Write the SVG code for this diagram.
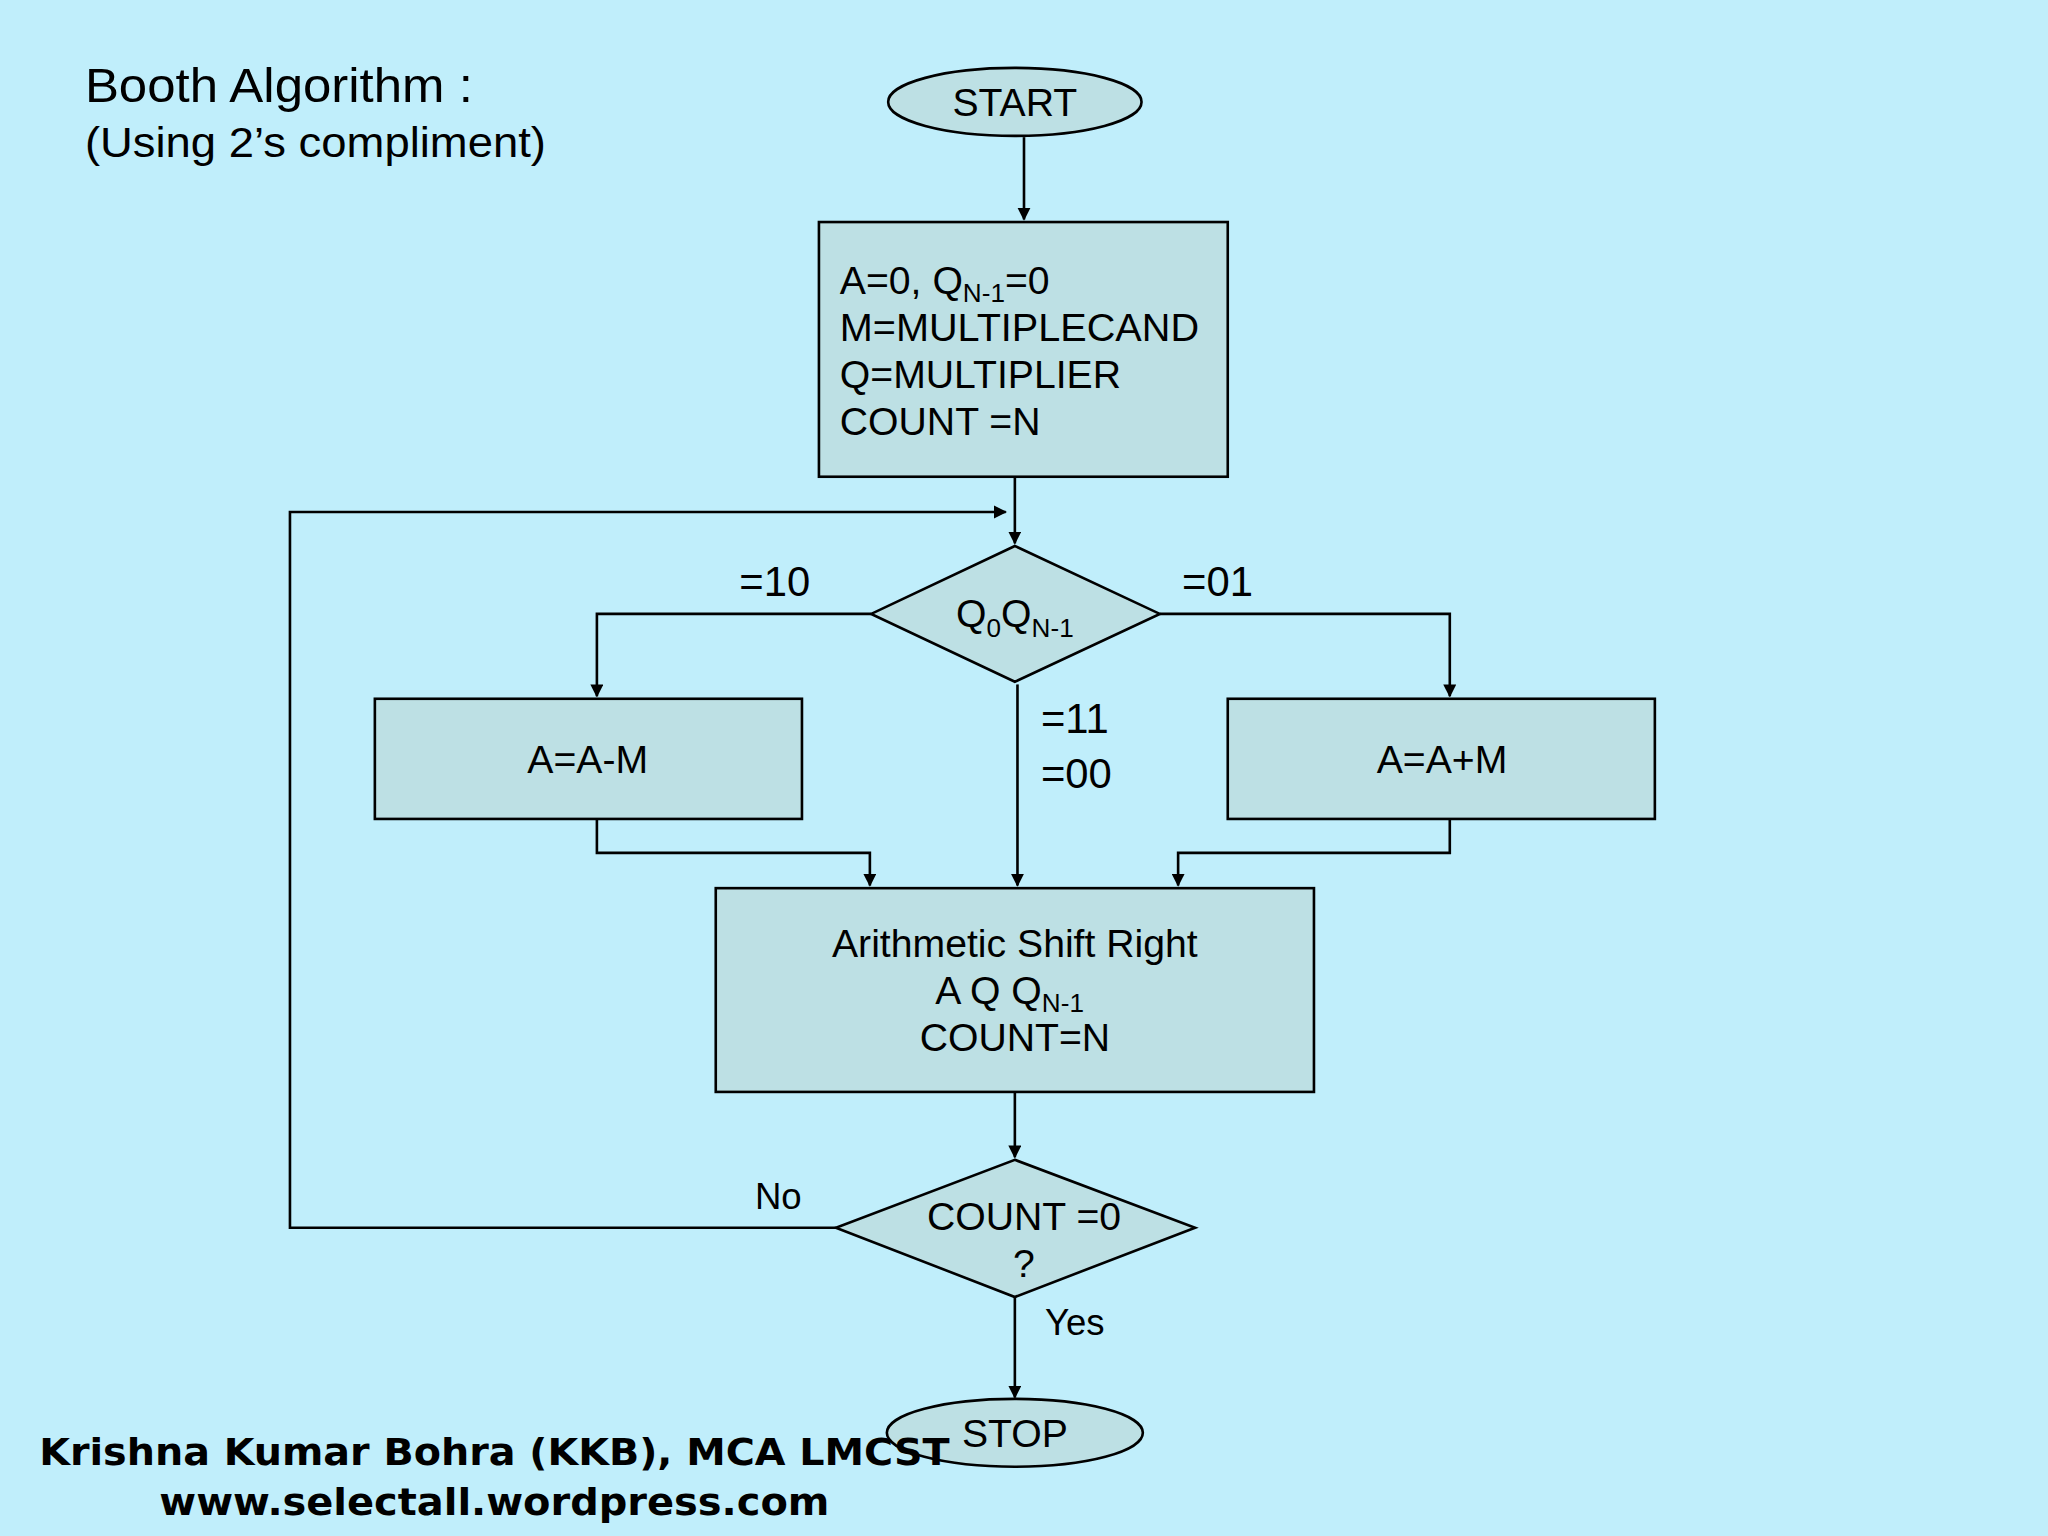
<svg xmlns="http://www.w3.org/2000/svg" width="2048" height="1536" viewBox="0 0 2048 1536">
<defs>
<marker id="ah" markerWidth="10" markerHeight="10" refX="9" refY="5" orient="auto" markerUnits="userSpaceOnUse"><path d="M0,0 L10,5 L0,10 z" fill="#000"/></marker>
<style>
.n{fill:#BDE0E4;stroke:#000;stroke-width:2}
.c{fill:none;stroke:#000;stroke-width:2}
.t{font-family:"Liberation Sans",Arial,sans-serif;font-size:30px;fill:#000}
.m{text-anchor:middle}
.f{font-family:"DejaVu Sans",Verdana,sans-serif;font-weight:bold;font-size:28px;fill:#000}
</style>
</defs>
<rect width="2048" height="1536" fill="#C0EEFB"/>
<g transform="scale(1.30612)">
<g id="title">
<text class="t" x="65" y="78" style="font-size:37px" textLength="297" lengthAdjust="spacingAndGlyphs">Booth Algorithm :</text>
<text class="t" x="65" y="120" style="font-size:33px" textLength="353" lengthAdjust="spacingAndGlyphs">(Using 2’s compliment)</text>
</g>
<g id="connectors">
<path class="c" d="M784,105 V168" marker-end="url(#ah)"/>
<path class="c" d="M777,365 V416" marker-end="url(#ah)"/>
<path class="c" d="M640,940 H222 V392 H770" marker-end="url(#ah)"/>
<path class="c" d="M667,470 H457 V533" marker-end="url(#ah)"/>
<path class="c" d="M888,470 H1110 V533" marker-end="url(#ah)"/>
<path class="c" d="M779,524 V678" marker-end="url(#ah)"/>
<path class="c" d="M457,627 V653 H666 V678" marker-end="url(#ah)"/>
<path class="c" d="M1110,627 V653 H902 V678" marker-end="url(#ah)"/>
<path class="c" d="M777,836 V886" marker-end="url(#ah)"/>
<path class="c" d="M777,993 V1070" marker-end="url(#ah)"/>
<text class="t" x="566" y="456" style="font-size:32px">=10</text>
<text class="t" x="905" y="456" style="font-size:32px">=01</text>
<text class="t" x="797" y="561" style="font-size:32px">=11</text>
<text class="t" x="797" y="603" style="font-size:32px">=00</text>
<text class="t" x="578" y="926" style="font-size:28px">No</text>
<text class="t" x="800" y="1022" style="font-size:28px">Yes</text>
</g>
<g id="start"><ellipse class="n" cx="777" cy="78" rx="97" ry="26"/><text class="t m" x="777" y="89">START</text></g>
<g id="init"><rect class="n" x="627" y="170" width="313" height="195"/>
<text class="t" x="643" y="225">A=0, Q<tspan dy="6" font-size="20">N-1</tspan><tspan dy="-6">=0</tspan></text>
<text class="t" x="643" y="261" textLength="275" lengthAdjust="spacingAndGlyphs">M=MULTIPLECAND</text>
<text class="t" x="643" y="297">Q=MULTIPLIER</text>
<text class="t" x="643" y="333">COUNT =N</text></g>
<g id="d1"><polygon class="n" points="777,418 888,470 777,522 667,470"/>
<text class="t" x="732" y="480">Q<tspan dy="8" font-size="20">0</tspan><tspan dy="-8">Q</tspan><tspan dy="8" font-size="20">N-1</tspan></text></g>
<g id="sub"><rect class="n" x="287" y="535" width="327" height="92"/><text class="t m" x="450" y="592">A=A-M</text></g>
<g id="add"><rect class="n" x="940" y="535" width="327" height="92"/><text class="t m" x="1104" y="592">A=A+M</text></g>
<g id="asr"><rect class="n" x="548" y="680" width="458" height="156"/>
<text class="t m" x="777" y="733">Arithmetic Shift Right</text>
<text class="t" x="716" y="769">A Q Q<tspan dy="6" font-size="20">N-1</tspan></text>
<text class="t m" x="777" y="805">COUNT=N</text></g>
<g id="d2"><polygon class="n" points="777,888 915,940 777,993 640,940"/>
<text class="t m" x="784" y="942">COUNT =0</text><text class="t m" x="784" y="978">?</text></g>
<g id="stop"><ellipse class="n" cx="777" cy="1097" rx="98" ry="26"/><text class="t m" x="777" y="1108">STOP</text></g>
<g id="footer">
<text class="f" x="30" y="1122" textLength="697" lengthAdjust="spacingAndGlyphs">Krishna Kumar Bohra (KKB), MCA LMCST</text>
<text class="f" x="122" y="1160" textLength="513" lengthAdjust="spacingAndGlyphs">www.selectall.wordpress.com</text>
</g>
</g>
</svg>
